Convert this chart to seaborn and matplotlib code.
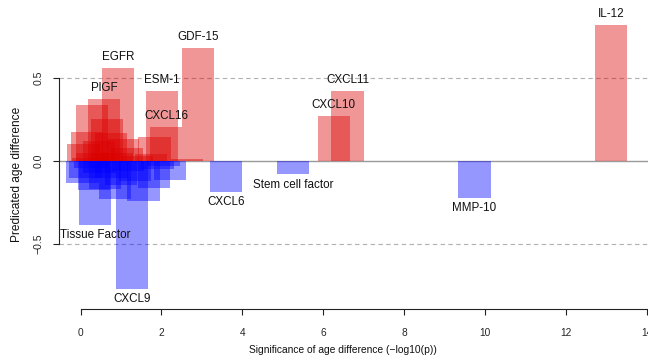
import numpy as np
import pandas as pd
import matplotlib
matplotlib.use("Agg")
import matplotlib.pyplot as plt
import seaborn as sns

# ---- data ----
significance = [13.11, 6.60, 6.26, 9.74, 5.26, 3.59, 2.91, 2.02, 2.12, 0.93, 0.585, 0.36, 1.27,
                0.07, 0.16, 0.28, 0.66, 0.45, 0.75, 1.05, 1.15, 0.30, 0.90, 1.40, 1.83, 1.75, 2.63, 0.20,
                0.05, 0.33, 0.85, 1.56, 1.81, 2.22, 0.12, 0.60, 1.00, 1.35, 0.47, 0.77, 1.17, 1.90, 0.25, 2.05]
age_diff = [0.819, 0.423, 0.271, -0.223, -0.080, -0.185, 0.683, 0.423, 0.207, 0.560, 0.373, -0.386, -0.771,
            0.10, 0.176, 0.34, 0.253, 0.12, 0.17, 0.13, 0.08, 0.05, 0.05, 0.03, 0.146, 0.04, 0.01, 0.02,
            -0.135, -0.175, -0.229, -0.239, -0.16, -0.114, -0.105, -0.17, -0.145, -0.12, -0.07, -0.10, -0.06, -0.05, -0.04, -0.03]
protein = ["IL-12", "CXCL11", "CXCL10", "MMP-10", "Stem cell factor", "CXCL6", "GDF-15", "ESM-1", "CXCL16",
           "EGFR", "PlGF", "Tissue Factor", "CXCL9"] + [""] * 31

x_ticks = [0, 2, 4, 6, 8, 10, 12, 14]
y_ticks = [-0.5, 0.0, 0.5]
y_tick_labels = ["\u22120.5", "0.0", "0.5"]
x_label = "Significance of age difference (\u2212log10(p))"
y_label = "Predicated age difference"

df = pd.DataFrame({"sig": significance, "diff": age_diff, "protein": protein})
df["dir"] = np.where(df["diff"] >= 0, "up", "down")

sns.set_style("white")
plt.rcParams["font.family"] = ["Liberation Sans", "DejaVu Sans"]

W, H = 648, 360
fig = plt.figure(figsize=(W / 100, H / 100), dpi=100)
ax_left, ax_bottom_px = 59, 309
ax = fig.add_axes([ax_left / W, 1 - ax_bottom_px / H, (W - ax_left) / W, ax_bottom_px / H])

px_per_x = 40.45
x0_px = 80.5
px_per_y = 166.0
y0_px = 161.0
xlim = ((ax_left - x0_px) / px_per_x, (W - x0_px) / px_per_x)
ylim = ((y0_px - ax_bottom_px) / px_per_y, y0_px / px_per_y)

# reference lines
ax.axhline(0, color="#9a9a9a", lw=1.0, zorder=0)
for yy in (-0.5, 0.5):
    ax.axhline(yy, color="#b0b0b0", lw=0.8, ls=(0, (4, 3)), zorder=0)

uniq = np.unique(df["sig"])
min_gap = np.min(np.diff(uniq))
bar_w = 0.8 / min_gap

sns.barplot(data=df, x="sig", y="diff", hue="dir", native_scale=True, dodge=False,
            palette={"up": (0.86, 0.0, 0.0), "down": (0, 0, 1)}, hue_order=["up", "down"],
            width=bar_w, errorbar=None, saturation=1, alpha=0.41, linewidth=0,
            legend=False, ax=ax)

for s, d, p in zip(significance, age_diff, protein):
    if p:
        off = 7.8 if d >= 0 else -7.4
        ax.annotate(p, (s, d), xytext=(0, off), textcoords="offset points",
                    ha="center", va="center", fontsize=8.4, color="#111111")

ax.set_xlim(*xlim)
ax.set_ylim(*ylim)
sns.despine(ax=ax, top=True, right=True)
ax.spines["left"].set_bounds(-0.5, 0.5)
ax.spines["bottom"].set_bounds(0, 14)
for sp in ("left", "bottom"):
    ax.spines[sp].set_color("#222222")
    ax.spines[sp].set_linewidth(0.8)

ax.set_xticks(x_ticks)
ax.set_xticklabels([str(t) for t in x_ticks], fontsize=7.3)
ax.set_yticks(y_ticks)
ax.set_yticklabels(y_tick_labels, fontsize=7.6, rotation=90, va="center")
ax.tick_params(axis="both", direction="out", length=4, width=0.8, color="#222222",
               bottom=True, left=True)
ax.tick_params(axis="x", pad=10)
ax.tick_params(axis="y", pad=7)
ax.set_xlabel("")
ax.set_ylabel("")

fig.text(343 / W, 1 - 350 / H, x_label, ha="center", va="center", fontsize=7.4, color="#111111")
fig.text(17 / W, 1 - 174 / H, y_label, ha="center", va="center", rotation=90, fontsize=8.6, color="#111111")

fig.savefig("out.png", dpi=100)
